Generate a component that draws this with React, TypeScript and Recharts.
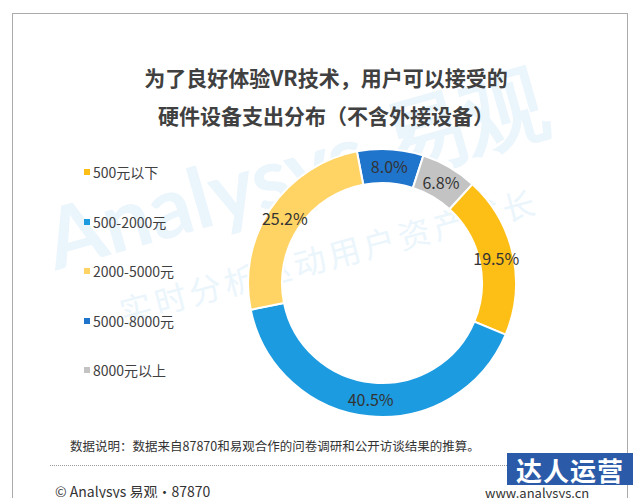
import React from 'react';
import { PieChart, Pie, Cell } from 'recharts';

// legend order
const categories = ['500元以下', '500-2000元', '2000-5000元', '5000-8000元', '8000元以上'];
const shares = [19.5, 40.5, 25.2, 8.0, 6.8];
const colors = ['#FDBE16', '#1C9BE0', '#FFD465', '#1F74CC', '#C3C3C3'];
// order of slices going clockwise from the top
const sliceOrder = [3, 4, 0, 1, 2];

const titleLines = ['为了良好体验VR技术，用户可以接受的', '硬件设备支出分布（不含外接设备）'];
const note = '数据说明：数据来自87870和易观合作的问卷调研和公开访谈结果的推算。';

const font = '"Noto Sans CJK SC", "Noto Sans", sans-serif';
const RAD = Math.PI / 180;

const renderLabel = (props: any) => {
  const { cx, cy, midAngle, innerRadius, outerRadius, value } = props;
  const r = (innerRadius + outerRadius) / 2;
  const x = cx + r * Math.cos(-midAngle * RAD);
  const y = cy + r * Math.sin(-midAngle * RAD);
  return (
    <text x={x} y={y} textAnchor="middle" dominantBaseline="central" fill="#333" fontSize={16} fontFamily={font}>
      {value.toFixed(1)}%
    </text>
  );
};

export default function App() {
  const data = sliceOrder.map((i) => ({ name: categories[i], value: shares[i], color: colors[i] }));

  return (
    <div style={{ position: 'absolute', left: 0, top: 0, width: 640, height: 498, background: '#fff', overflow: 'hidden', fontFamily: font }}>
      <div style={{ position: 'absolute', left: 12, top: 13, width: 616, height: 500, border: '1px solid #aaa', boxSizing: 'border-box' }} />

      {/* faint watermark */}
      <div style={{ position: 'absolute', left: 60, top: 190, height: 96, lineHeight: '96px', fontSize: 84, fontWeight: 700, color: '#ebf5fc', transform: 'rotate(-16deg)', transformOrigin: 'left bottom', whiteSpace: 'nowrap', fontFamily: 'Lato, sans-serif' }}>
        Analysys 易观
      </div>
      <div style={{ position: 'absolute', left: 125, top: 290, height: 40, lineHeight: '40px', fontSize: 32, color: '#ebf5fc', transform: 'rotate(-15deg)', transformOrigin: 'left bottom', whiteSpace: 'nowrap', letterSpacing: 4 }}>
        实时分析驱动用户资产成长
      </div>

      <div style={{ position: 'absolute', left: 0, top: 58, width: 652, textAlign: 'center', fontSize: 21, fontWeight: 700, color: '#404040', lineHeight: '38px' }}>
        {titleLines.map((t) => (
          <div key={t}>{t}</div>
        ))}
      </div>

      {categories.map((c, i) => (
        <div key={c} style={{ position: 'absolute', left: 84, top: 162 + i * 49.5, height: 20, display: 'flex', alignItems: 'center', fontSize: 14, color: '#404040', whiteSpace: 'nowrap' }}>
          <span style={{ display: 'inline-block', width: 6, height: 6, background: colors[i], marginRight: 3 }} />
          {c}
        </div>
      ))}

      <div style={{ position: 'absolute', left: 0, top: 0 }}>
        <PieChart width={640} height={498} margin={{ top: 0, right: 0, bottom: 0, left: 0 }}>
          <Pie
            data={data}
            dataKey="value"
            nameKey="name"
            cx={382}
            cy={283}
            innerRadius={100}
            outerRadius={134}
            startAngle={100.8}
            endAngle={-259.2}
            stroke="#fff"
            strokeWidth={2}
            label={renderLabel}
            labelLine={false}
            isAnimationActive={false}
          >
            {data.map((d) => (
              <Cell key={d.name} fill={d.color} />
            ))}
          </Pie>
        </PieChart>
      </div>

      <div style={{ position: 'absolute', left: 70, top: 436, fontSize: 12.5, color: '#333', whiteSpace: 'nowrap' }}>{note}</div>
      <div style={{ position: 'absolute', left: 50, top: 465, width: 575, borderTop: '1px dotted #999' }} />
      <div style={{ position: 'absolute', left: 55, top: 481, fontSize: 14, color: '#333', whiteSpace: 'nowrap' }}>© Analysys 易观·87870</div>
      <div style={{ position: 'absolute', left: 485, top: 483, fontSize: 13, color: '#333', whiteSpace: 'nowrap' }}>www.analysys.cn</div>
      <div style={{ position: 'absolute', left: 507, top: 453, width: 126, height: 32, background: '#2B5BA8', color: '#fff', fontSize: 26, fontWeight: 700, display: 'flex', alignItems: 'center', justifyContent: 'center', letterSpacing: 1 }}>
        达人运营
      </div>
    </div>
  );
}
